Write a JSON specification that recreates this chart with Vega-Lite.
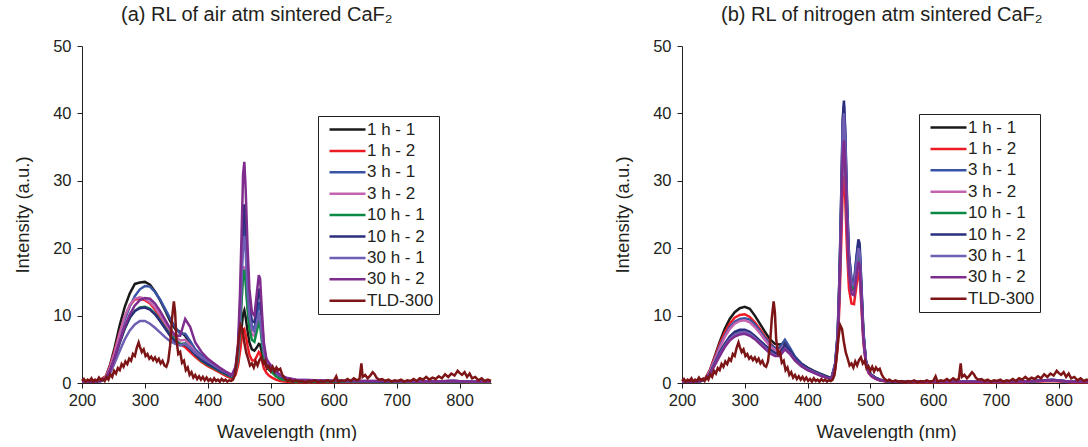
{
"$schema": "https://vega.github.io/schema/vega-lite/v6.json",
"padding": {"left": 13, "top": 5, "right": 0, "bottom": 0},
"spacing": 117,
"config": {
  "font": "Liberation Sans",
  "view": {"stroke": null},
  "axis": {"grid": false, "domainColor": "#231f20", "tickColor": "#231f20", "labelColor": "#231f20", "titleColor": "#231f20", "labelFontSize": 16.5, "titleFontSize": 18.5, "titleFontWeight": "normal", "labelFont": "Liberation Sans", "titleFont": "Liberation Sans", "domainWidth": 1, "tickWidth": 1, "labelFlush": false, "labelOverlap": false},
  "title": {"font": "Liberation Sans", "fontSize": 20, "fontWeight": "normal", "color": "#231f20", "anchor": "start", "frame": "group", "dx": 39, "offset": 13},
  "legend": {"orient": "none", "title": null, "symbolType": "M-3.6,0H3.6", "symbolSize": 100, "symbolStrokeWidth": 2.5, "labelFontSize": 17, "labelColor": "#231f20", "labelFont": "Liberation Sans", "strokeColor": "#231f20", "fillColor": "white", "padding": 5, "rowPadding": 3.4, "labelOffset": 11, "symbolOffset": 16}
},
"resolve": {"scale": {"color": "independent"}, "legend": {"color": "independent"}},
"datasets": {
  "a": [
    {"w":200,"1 h - 1":0.3,"1 h - 2":0.2,"3 h - 1":0.2,"3 h - 2":0.2,"10 h - 1":0.2,"10 h - 2":0.2,"30 h - 1":0.2,"30 h - 2":0.2},
    {"w":215,"1 h - 1":0.3,"1 h - 2":0.3,"3 h - 1":0.2,"3 h - 2":0.2,"10 h - 1":0.2,"10 h - 2":0.2,"30 h - 1":0.2,"30 h - 2":0.2},
    {"w":230,"1 h - 1":0.5,"1 h - 2":0.5,"3 h - 1":0.4,"3 h - 2":0.4,"10 h - 1":0.3,"10 h - 2":0.3,"30 h - 1":0.3,"30 h - 2":0.3},
    {"w":238,"1 h - 1":1.0,"1 h - 2":1.0,"3 h - 1":0.8,"3 h - 2":0.9,"10 h - 1":0.7,"10 h - 2":0.7,"30 h - 1":0.6,"30 h - 2":0.7},
    {"w":245,"1 h - 1":2.8,"1 h - 2":2.6,"3 h - 1":2.2,"3 h - 2":2.4,"10 h - 1":1.9,"10 h - 2":1.9,"30 h - 1":1.5,"30 h - 2":1.9},
    {"w":252,"1 h - 1":5.3,"1 h - 2":4.8,"3 h - 1":4.3,"3 h - 2":4.6,"10 h - 1":3.7,"10 h - 2":3.7,"30 h - 1":3.0,"30 h - 2":3.8},
    {"w":260,"1 h - 1":8.6,"1 h - 2":7.5,"3 h - 1":7.0,"3 h - 2":7.4,"10 h - 1":6.0,"10 h - 2":6.0,"30 h - 1":4.8,"30 h - 2":6.2},
    {"w":268,"1 h - 1":11.3,"1 h - 2":9.8,"3 h - 1":9.4,"3 h - 2":9.9,"10 h - 1":8.1,"10 h - 2":8.1,"30 h - 1":6.5,"30 h - 2":8.4},
    {"w":276,"1 h - 1":13.3,"1 h - 2":11.5,"3 h - 1":11.4,"3 h - 2":11.6,"10 h - 1":9.7,"10 h - 2":9.7,"30 h - 1":7.8,"30 h - 2":10.2},
    {"w":284,"1 h - 1":14.7,"1 h - 2":12.4,"3 h - 1":12.9,"3 h - 2":12.5,"10 h - 1":10.7,"10 h - 2":10.7,"30 h - 1":8.7,"30 h - 2":11.5},
    {"w":292,"1 h - 1":14.9,"1 h - 2":12.5,"3 h - 1":13.9,"3 h - 2":12.7,"10 h - 1":11.2,"10 h - 2":11.1,"30 h - 1":9.2,"30 h - 2":12.3},
    {"w":300,"1 h - 1":15.0,"1 h - 2":12.3,"3 h - 1":14.4,"3 h - 2":12.5,"10 h - 1":11.3,"10 h - 2":11.2,"30 h - 1":9.2,"30 h - 2":12.6},
    {"w":308,"1 h - 1":14.6,"1 h - 2":11.8,"3 h - 1":14.3,"3 h - 2":12.0,"10 h - 1":11.0,"10 h - 2":10.9,"30 h - 1":8.8,"30 h - 2":12.5},
    {"w":316,"1 h - 1":13.6,"1 h - 2":10.9,"3 h - 1":13.5,"3 h - 2":11.2,"10 h - 1":10.3,"10 h - 2":10.2,"30 h - 1":8.2,"30 h - 2":11.8},
    {"w":324,"1 h - 1":12.3,"1 h - 2":9.8,"3 h - 1":12.4,"3 h - 2":10.1,"10 h - 1":9.3,"10 h - 2":9.2,"30 h - 1":7.5,"30 h - 2":10.7},
    {"w":332,"1 h - 1":10.8,"1 h - 2":8.6,"3 h - 1":11.0,"3 h - 2":8.9,"10 h - 1":8.2,"10 h - 2":8.1,"30 h - 1":6.8,"30 h - 2":9.4},
    {"w":340,"1 h - 1":9.2,"1 h - 2":7.4,"3 h - 1":9.6,"3 h - 2":7.8,"10 h - 1":7.2,"10 h - 2":7.0,"30 h - 1":6.2,"30 h - 2":8.1},
    {"w":348,"1 h - 1":8.0,"1 h - 2":6.4,"3 h - 1":8.3,"3 h - 2":6.9,"10 h - 1":6.4,"10 h - 2":6.1,"30 h - 1":5.8,"30 h - 2":7.0},
    {"w":356,"1 h - 1":7.6,"1 h - 2":5.8,"3 h - 1":7.3,"3 h - 2":6.3,"10 h - 1":5.8,"10 h - 2":5.6,"30 h - 1":5.6,"30 h - 2":7.0},
    {"w":364,"1 h - 1":7.0,"1 h - 2":5.3,"3 h - 1":7.3,"3 h - 2":6.4,"10 h - 1":5.9,"10 h - 2":5.7,"30 h - 1":5.8,"30 h - 2":9.5},
    {"w":372,"1 h - 1":5.8,"1 h - 2":4.6,"3 h - 1":6.2,"3 h - 2":5.6,"10 h - 1":5.1,"10 h - 2":5.0,"30 h - 1":5.2,"30 h - 2":8.3},
    {"w":380,"1 h - 1":4.8,"1 h - 2":3.9,"3 h - 1":5.0,"3 h - 2":4.6,"10 h - 1":4.2,"10 h - 2":4.2,"30 h - 1":4.5,"30 h - 2":6.0},
    {"w":390,"1 h - 1":3.8,"1 h - 2":3.1,"3 h - 1":4.1,"3 h - 2":3.8,"10 h - 1":3.3,"10 h - 2":3.4,"30 h - 1":3.8,"30 h - 2":4.6},
    {"w":400,"1 h - 1":3.0,"1 h - 2":2.5,"3 h - 1":3.4,"3 h - 2":3.2,"10 h - 1":2.7,"10 h - 2":2.8,"30 h - 1":3.2,"30 h - 2":3.6},
    {"w":410,"1 h - 1":2.5,"1 h - 2":2.0,"3 h - 1":2.8,"3 h - 2":2.6,"10 h - 1":2.2,"10 h - 2":2.3,"30 h - 1":2.6,"30 h - 2":2.9},
    {"w":420,"1 h - 1":2.0,"1 h - 2":1.5,"3 h - 1":2.1,"3 h - 2":2.0,"10 h - 1":1.7,"10 h - 2":1.8,"30 h - 1":2.0,"30 h - 2":2.2},
    {"w":430,"1 h - 1":1.4,"1 h - 2":1.0,"3 h - 1":1.5,"3 h - 2":1.4,"10 h - 1":1.2,"10 h - 2":1.3,"30 h - 1":1.5,"30 h - 2":1.6},
    {"w":438,"1 h - 1":1.0,"1 h - 2":0.7,"3 h - 1":1.1,"3 h - 2":1.0,"10 h - 1":0.9,"10 h - 2":1.0,"30 h - 1":1.1,"30 h - 2":1.2},
    {"w":444,"1 h - 1":1.5,"1 h - 2":1.2,"3 h - 1":2.0,"3 h - 2":1.8,"10 h - 1":1.7,"10 h - 2":2.1,"30 h - 1":2.0,"30 h - 2":2.4},
    {"w":448,"1 h - 1":3.0,"1 h - 2":2.6,"3 h - 1":4.8,"3 h - 2":3.9,"10 h - 1":3.7,"10 h - 2":5.0,"30 h - 1":4.5,"30 h - 2":5.8},
    {"w":451,"1 h - 1":5.5,"1 h - 2":4.6,"3 h - 1":10.0,"3 h - 2":7.7,"10 h - 1":7.5,"10 h - 2":10.5,"30 h - 1":9.0,"30 h - 2":13.0},
    {"w":454,"1 h - 1":8.5,"1 h - 2":6.8,"3 h - 1":17.5,"3 h - 2":13.0,"10 h - 1":12.8,"10 h - 2":19.0,"30 h - 1":16.0,"30 h - 2":23.5},
    {"w":456,"1 h - 1":10.3,"1 h - 2":7.8,"3 h - 1":22.5,"3 h - 2":16.5,"10 h - 1":16.0,"10 h - 2":25.0,"30 h - 1":20.5,"30 h - 2":31.0},
    {"w":458,"1 h - 1":10.8,"1 h - 2":8.0,"3 h - 1":24.0,"3 h - 2":17.3,"10 h - 1":16.8,"10 h - 2":26.5,"30 h - 1":21.8,"30 h - 2":32.8},
    {"w":460,"1 h - 1":9.8,"1 h - 2":7.2,"3 h - 1":21.5,"3 h - 2":15.5,"10 h - 1":15.0,"10 h - 2":23.5,"30 h - 1":19.5,"30 h - 2":29.0},
    {"w":463,"1 h - 1":7.8,"1 h - 2":5.6,"3 h - 1":15.5,"3 h - 2":11.5,"10 h - 1":11.0,"10 h - 2":16.5,"30 h - 1":14.0,"30 h - 2":20.5},
    {"w":466,"1 h - 1":6.0,"1 h - 2":4.2,"3 h - 1":11.0,"3 h - 2":8.5,"10 h - 1":8.0,"10 h - 2":11.5,"30 h - 1":10.0,"30 h - 2":14.0},
    {"w":470,"1 h - 1":5.0,"1 h - 2":3.4,"3 h - 1":8.5,"3 h - 2":7.2,"10 h - 1":6.4,"10 h - 2":9.2,"30 h - 1":8.0,"30 h - 2":10.5},
    {"w":474,"1 h - 1":4.8,"1 h - 2":3.3,"3 h - 1":8.0,"3 h - 2":7.0,"10 h - 1":6.1,"10 h - 2":9.0,"30 h - 1":7.6,"30 h - 2":10.0},
    {"w":478,"1 h - 1":5.3,"1 h - 2":4.0,"3 h - 1":10.0,"3 h - 2":8.6,"10 h - 1":7.8,"10 h - 2":11.5,"30 h - 1":9.0,"30 h - 2":13.5},
    {"w":481,"1 h - 1":5.8,"1 h - 2":4.6,"3 h - 1":12.0,"3 h - 2":10.0,"10 h - 1":9.0,"10 h - 2":14.0,"30 h - 1":10.2,"30 h - 2":16.0},
    {"w":483,"1 h - 1":5.7,"1 h - 2":4.4,"3 h - 1":11.5,"3 h - 2":9.6,"10 h - 1":8.6,"10 h - 2":13.5,"30 h - 1":9.8,"30 h - 2":15.5},
    {"w":486,"1 h - 1":4.5,"1 h - 2":3.3,"3 h - 1":8.0,"3 h - 2":6.8,"10 h - 1":6.0,"10 h - 2":9.0,"30 h - 1":7.0,"30 h - 2":10.5},
    {"w":489,"1 h - 1":3.2,"1 h - 2":2.2,"3 h - 1":5.0,"3 h - 2":4.4,"10 h - 1":3.8,"10 h - 2":5.4,"30 h - 1":4.6,"30 h - 2":6.0},
    {"w":493,"1 h - 1":2.4,"1 h - 2":1.5,"3 h - 1":3.2,"3 h - 2":3.0,"10 h - 1":2.6,"10 h - 2":3.4,"30 h - 1":3.2,"30 h - 2":3.6},
    {"w":497,"1 h - 1":2.0,"1 h - 2":1.1,"3 h - 1":2.6,"3 h - 2":2.4,"10 h - 1":2.1,"10 h - 2":2.7,"30 h - 1":2.7,"30 h - 2":3.0},
    {"w":502,"1 h - 1":1.6,"1 h - 2":0.8,"3 h - 1":2.0,"3 h - 2":1.9,"10 h - 1":1.6,"10 h - 2":2.1,"30 h - 1":2.2,"30 h - 2":2.4},
    {"w":508,"1 h - 1":1.2,"1 h - 2":0.5,"3 h - 1":1.4,"3 h - 2":1.3,"10 h - 1":1.0,"10 h - 2":1.5,"30 h - 1":1.6,"30 h - 2":1.8},
    {"w":515,"1 h - 1":0.8,"1 h - 2":0.3,"3 h - 1":0.9,"3 h - 2":0.9,"10 h - 1":0.6,"10 h - 2":1.0,"30 h - 1":1.1,"30 h - 2":1.2},
    {"w":525,"1 h - 1":0.5,"1 h - 2":0.2,"3 h - 1":0.5,"3 h - 2":0.5,"10 h - 1":0.4,"10 h - 2":0.6,"30 h - 1":0.7,"30 h - 2":0.8},
    {"w":540,"1 h - 1":0.3,"1 h - 2":0.1,"3 h - 1":0.3,"3 h - 2":0.3,"10 h - 1":0.2,"10 h - 2":0.4,"30 h - 1":0.5,"30 h - 2":0.5},
    {"w":570,"1 h - 1":0.2,"1 h - 2":0.1,"3 h - 1":0.2,"3 h - 2":0.2,"10 h - 1":0.2,"10 h - 2":0.3,"30 h - 1":0.4,"30 h - 2":0.4},
    {"w":620,"1 h - 1":0.2,"1 h - 2":0.1,"3 h - 1":0.2,"3 h - 2":0.2,"10 h - 1":0.2,"10 h - 2":0.3,"30 h - 1":0.3,"30 h - 2":0.3},
    {"w":680,"1 h - 1":0.2,"1 h - 2":0.1,"3 h - 1":0.2,"3 h - 2":0.2,"10 h - 1":0.1,"10 h - 2":0.2,"30 h - 1":0.3,"30 h - 2":0.3},
    {"w":740,"1 h - 1":0.2,"1 h - 2":0.1,"3 h - 1":0.2,"3 h - 2":0.2,"10 h - 1":0.1,"10 h - 2":0.2,"30 h - 1":0.2,"30 h - 2":0.2},
    {"w":790,"1 h - 1":0.3,"1 h - 2":0.2,"3 h - 1":0.3,"3 h - 2":0.3,"10 h - 1":0.2,"10 h - 2":0.3,"30 h - 1":0.3,"30 h - 2":0.3},
    {"w":820,"1 h - 1":0.2,"1 h - 2":0.1,"3 h - 1":0.2,"3 h - 2":0.2,"10 h - 1":0.1,"10 h - 2":0.2,"30 h - 1":0.2,"30 h - 2":0.2},
    {"w":850,"1 h - 1":0.2,"1 h - 2":0.1,"3 h - 1":0.2,"3 h - 2":0.2,"10 h - 1":0.1,"10 h - 2":0.2,"30 h - 1":0.2,"30 h - 2":0.2}
  ],
  "b": [
    {"w":200,"1 h - 1":0.2,"1 h - 2":0.2,"3 h - 1":0.2,"3 h - 2":0.2,"10 h - 1":0.2,"10 h - 2":0.2,"30 h - 1":0.2,"30 h - 2":0.2},
    {"w":215,"1 h - 1":0.2,"1 h - 2":0.2,"3 h - 1":0.2,"3 h - 2":0.2,"10 h - 1":0.2,"10 h - 2":0.2,"30 h - 1":0.2,"30 h - 2":0.2},
    {"w":230,"1 h - 1":0.4,"1 h - 2":0.4,"3 h - 1":0.3,"3 h - 2":0.3,"10 h - 1":0.3,"10 h - 2":0.3,"30 h - 1":0.3,"30 h - 2":0.3},
    {"w":238,"1 h - 1":0.8,"1 h - 2":0.8,"3 h - 1":0.7,"3 h - 2":0.7,"10 h - 1":0.6,"10 h - 2":0.6,"30 h - 1":0.6,"30 h - 2":0.6},
    {"w":245,"1 h - 1":2.0,"1 h - 2":2.0,"3 h - 1":1.8,"3 h - 2":1.8,"10 h - 1":1.5,"10 h - 2":1.5,"30 h - 1":1.4,"30 h - 2":1.4},
    {"w":252,"1 h - 1":3.9,"1 h - 2":3.8,"3 h - 1":3.5,"3 h - 2":3.4,"10 h - 1":2.8,"10 h - 2":2.9,"30 h - 1":2.7,"30 h - 2":2.6},
    {"w":260,"1 h - 1":6.1,"1 h - 2":5.8,"3 h - 1":5.4,"3 h - 2":5.2,"10 h - 1":4.4,"10 h - 2":4.5,"30 h - 1":4.2,"30 h - 2":4.0},
    {"w":268,"1 h - 1":8.0,"1 h - 2":7.5,"3 h - 1":7.0,"3 h - 2":6.8,"10 h - 1":5.7,"10 h - 2":5.8,"30 h - 1":5.5,"30 h - 2":5.3},
    {"w":276,"1 h - 1":9.5,"1 h - 2":8.8,"3 h - 1":8.3,"3 h - 2":8.0,"10 h - 1":6.7,"10 h - 2":6.9,"30 h - 1":6.5,"30 h - 2":6.3},
    {"w":284,"1 h - 1":10.5,"1 h - 2":9.7,"3 h - 1":9.1,"3 h - 2":8.8,"10 h - 1":7.4,"10 h - 2":7.6,"30 h - 1":7.2,"30 h - 2":6.9},
    {"w":292,"1 h - 1":11.1,"1 h - 2":10.1,"3 h - 1":9.5,"3 h - 2":9.2,"10 h - 1":7.7,"10 h - 2":7.9,"30 h - 1":7.5,"30 h - 2":7.2},
    {"w":300,"1 h - 1":11.3,"1 h - 2":10.2,"3 h - 1":9.6,"3 h - 2":9.3,"10 h - 1":7.7,"10 h - 2":7.9,"30 h - 1":7.6,"30 h - 2":7.3},
    {"w":308,"1 h - 1":11.0,"1 h - 2":9.8,"3 h - 1":9.4,"3 h - 2":9.0,"10 h - 1":7.4,"10 h - 2":7.6,"30 h - 1":7.3,"30 h - 2":7.0},
    {"w":316,"1 h - 1":10.0,"1 h - 2":9.0,"3 h - 1":8.7,"3 h - 2":8.3,"10 h - 1":6.9,"10 h - 2":7.0,"30 h - 1":6.7,"30 h - 2":6.5},
    {"w":324,"1 h - 1":8.8,"1 h - 2":8.0,"3 h - 1":7.7,"3 h - 2":7.4,"10 h - 1":6.2,"10 h - 2":6.3,"30 h - 1":6.0,"30 h - 2":5.8},
    {"w":332,"1 h - 1":7.6,"1 h - 2":6.9,"3 h - 1":6.7,"3 h - 2":6.4,"10 h - 1":5.5,"10 h - 2":5.6,"30 h - 1":5.3,"30 h - 2":5.1},
    {"w":340,"1 h - 1":6.5,"1 h - 2":5.9,"3 h - 1":5.8,"3 h - 2":5.5,"10 h - 1":4.9,"10 h - 2":5.0,"30 h - 1":4.6,"30 h - 2":4.4},
    {"w":348,"1 h - 1":5.8,"1 h - 2":5.2,"3 h - 1":5.2,"3 h - 2":4.9,"10 h - 1":4.4,"10 h - 2":4.5,"30 h - 1":4.1,"30 h - 2":4.0},
    {"w":356,"1 h - 1":5.7,"1 h - 2":5.0,"3 h - 1":5.3,"3 h - 2":4.8,"10 h - 1":4.4,"10 h - 2":4.5,"30 h - 1":4.1,"30 h - 2":4.0},
    {"w":364,"1 h - 1":5.9,"1 h - 2":5.3,"3 h - 1":6.4,"3 h - 2":5.6,"10 h - 1":5.4,"10 h - 2":5.6,"30 h - 1":5.1,"30 h - 2":5.0},
    {"w":372,"1 h - 1":4.8,"1 h - 2":4.4,"3 h - 1":5.2,"3 h - 2":4.7,"10 h - 1":4.6,"10 h - 2":4.8,"30 h - 1":4.4,"30 h - 2":4.3},
    {"w":380,"1 h - 1":3.8,"1 h - 2":3.5,"3 h - 1":3.9,"3 h - 2":3.6,"10 h - 1":3.5,"10 h - 2":3.7,"30 h - 1":3.4,"30 h - 2":3.3},
    {"w":390,"1 h - 1":2.9,"1 h - 2":2.6,"3 h - 1":2.9,"3 h - 2":2.7,"10 h - 1":2.6,"10 h - 2":2.8,"30 h - 1":2.6,"30 h - 2":2.5},
    {"w":400,"1 h - 1":2.3,"1 h - 2":2.0,"3 h - 1":2.2,"3 h - 2":2.1,"10 h - 1":2.0,"10 h - 2":2.2,"30 h - 1":2.0,"30 h - 2":1.9},
    {"w":410,"1 h - 1":1.8,"1 h - 2":1.6,"3 h - 1":1.7,"3 h - 2":1.6,"10 h - 1":1.6,"10 h - 2":1.7,"30 h - 1":1.6,"30 h - 2":1.5},
    {"w":420,"1 h - 1":1.4,"1 h - 2":1.2,"3 h - 1":1.3,"3 h - 2":1.2,"10 h - 1":1.2,"10 h - 2":1.3,"30 h - 1":1.2,"30 h - 2":1.1},
    {"w":430,"1 h - 1":1.0,"1 h - 2":0.8,"3 h - 1":0.9,"3 h - 2":0.8,"10 h - 1":0.8,"10 h - 2":0.9,"30 h - 1":0.8,"30 h - 2":0.8},
    {"w":438,"1 h - 1":0.7,"1 h - 2":0.6,"3 h - 1":0.7,"3 h - 2":0.6,"10 h - 1":0.6,"10 h - 2":0.7,"30 h - 1":0.6,"30 h - 2":0.6},
    {"w":444,"1 h - 1":2.5,"1 h - 2":2.0,"3 h - 1":2.8,"3 h - 2":2.4,"10 h - 1":2.6,"10 h - 2":2.9,"30 h - 1":2.7,"30 h - 2":2.4},
    {"w":448,"1 h - 1":6.5,"1 h - 2":5.3,"3 h - 1":7.2,"3 h - 2":6.3,"10 h - 1":6.7,"10 h - 2":7.4,"30 h - 1":7.0,"30 h - 2":6.3},
    {"w":451,"1 h - 1":14.5,"1 h - 2":12.0,"3 h - 1":16.0,"3 h - 2":14.0,"10 h - 1":15.0,"10 h - 2":16.5,"30 h - 1":15.7,"30 h - 2":14.0},
    {"w":454,"1 h - 1":26.5,"1 h - 2":22.0,"3 h - 1":29.0,"3 h - 2":25.5,"10 h - 1":27.0,"10 h - 2":29.5,"30 h - 1":28.0,"30 h - 2":25.3},
    {"w":456,"1 h - 1":35.0,"1 h - 2":28.8,"3 h - 1":38.5,"3 h - 2":33.5,"10 h - 1":35.8,"10 h - 2":39.2,"30 h - 1":37.4,"30 h - 2":33.6},
    {"w":458,"1 h - 1":37.5,"1 h - 2":30.7,"3 h - 1":41.2,"3 h - 2":36.0,"10 h - 1":38.3,"10 h - 2":41.9,"30 h - 1":40.0,"30 h - 2":36.0},
    {"w":460,"1 h - 1":34.0,"1 h - 2":27.5,"3 h - 1":37.0,"3 h - 2":32.5,"10 h - 1":34.5,"10 h - 2":37.8,"30 h - 1":36.0,"30 h - 2":32.4},
    {"w":463,"1 h - 1":24.5,"1 h - 2":19.5,"3 h - 1":26.5,"3 h - 2":23.0,"10 h - 1":24.5,"10 h - 2":27.0,"30 h - 1":25.8,"30 h - 2":23.0},
    {"w":466,"1 h - 1":17.5,"1 h - 2":14.0,"3 h - 1":19.0,"3 h - 2":16.5,"10 h - 1":17.5,"10 h - 2":19.2,"30 h - 1":18.4,"30 h - 2":16.4},
    {"w":470,"1 h - 1":14.0,"1 h - 2":11.8,"3 h - 1":15.5,"3 h - 2":13.5,"10 h - 1":14.3,"10 h - 2":15.2,"30 h - 1":14.8,"30 h - 2":13.2},
    {"w":474,"1 h - 1":13.5,"1 h - 2":11.7,"3 h - 1":15.0,"3 h - 2":13.3,"10 h - 1":14.0,"10 h - 2":14.8,"30 h - 1":14.5,"30 h - 2":13.0},
    {"w":478,"1 h - 1":16.5,"1 h - 2":14.5,"3 h - 1":18.5,"3 h - 2":16.0,"10 h - 1":17.3,"10 h - 2":18.8,"30 h - 1":17.8,"30 h - 2":16.0},
    {"w":481,"1 h - 1":19.0,"1 h - 2":16.5,"3 h - 1":20.8,"3 h - 2":18.0,"10 h - 1":19.5,"10 h - 2":21.3,"30 h - 1":20.0,"30 h - 2":18.0},
    {"w":483,"1 h - 1":18.5,"1 h - 2":16.0,"3 h - 1":20.2,"3 h - 2":17.5,"10 h - 1":19.0,"10 h - 2":20.7,"30 h - 1":19.5,"30 h - 2":17.5},
    {"w":486,"1 h - 1":13.0,"1 h - 2":11.0,"3 h - 1":14.0,"3 h - 2":12.0,"10 h - 1":13.0,"10 h - 2":14.2,"30 h - 1":13.4,"30 h - 2":12.0},
    {"w":489,"1 h - 1":7.0,"1 h - 2":6.0,"3 h - 1":7.5,"3 h - 2":6.5,"10 h - 1":7.0,"10 h - 2":7.6,"30 h - 1":7.2,"30 h - 2":6.5},
    {"w":493,"1 h - 1":3.2,"1 h - 2":2.8,"3 h - 1":3.3,"3 h - 2":2.9,"10 h - 1":3.1,"10 h - 2":3.4,"30 h - 1":3.2,"30 h - 2":2.9},
    {"w":497,"1 h - 1":1.8,"1 h - 2":1.5,"3 h - 1":1.8,"3 h - 2":1.6,"10 h - 1":1.7,"10 h - 2":1.8,"30 h - 1":1.7,"30 h - 2":1.6},
    {"w":502,"1 h - 1":1.2,"1 h - 2":1.0,"3 h - 1":1.2,"3 h - 2":1.1,"10 h - 1":1.1,"10 h - 2":1.2,"30 h - 1":1.1,"30 h - 2":1.0},
    {"w":508,"1 h - 1":0.8,"1 h - 2":0.6,"3 h - 1":0.8,"3 h - 2":0.7,"10 h - 1":0.7,"10 h - 2":0.8,"30 h - 1":0.7,"30 h - 2":0.7},
    {"w":515,"1 h - 1":0.5,"1 h - 2":0.4,"3 h - 1":0.5,"3 h - 2":0.4,"10 h - 1":0.4,"10 h - 2":0.5,"30 h - 1":0.4,"30 h - 2":0.4},
    {"w":525,"1 h - 1":0.3,"1 h - 2":0.2,"3 h - 1":0.3,"3 h - 2":0.3,"10 h - 1":0.3,"10 h - 2":0.3,"30 h - 1":0.3,"30 h - 2":0.3},
    {"w":540,"1 h - 1":0.2,"1 h - 2":0.2,"3 h - 1":0.2,"3 h - 2":0.2,"10 h - 1":0.2,"10 h - 2":0.2,"30 h - 1":0.2,"30 h - 2":0.2},
    {"w":570,"1 h - 1":0.2,"1 h - 2":0.1,"3 h - 1":0.2,"3 h - 2":0.2,"10 h - 1":0.2,"10 h - 2":0.2,"30 h - 1":0.2,"30 h - 2":0.2},
    {"w":620,"1 h - 1":0.2,"1 h - 2":0.1,"3 h - 1":0.2,"3 h - 2":0.2,"10 h - 1":0.2,"10 h - 2":0.2,"30 h - 1":0.2,"30 h - 2":0.2},
    {"w":680,"1 h - 1":0.2,"1 h - 2":0.1,"3 h - 1":0.2,"3 h - 2":0.2,"10 h - 1":0.2,"10 h - 2":0.2,"30 h - 1":0.2,"30 h - 2":0.2},
    {"w":740,"1 h - 1":0.2,"1 h - 2":0.1,"3 h - 1":0.2,"3 h - 2":0.2,"10 h - 1":0.2,"10 h - 2":0.2,"30 h - 1":0.2,"30 h - 2":0.2},
    {"w":790,"1 h - 1":0.4,"1 h - 2":0.3,"3 h - 1":0.5,"3 h - 2":0.4,"10 h - 1":0.4,"10 h - 2":0.5,"30 h - 1":0.4,"30 h - 2":0.4},
    {"w":820,"1 h - 1":0.2,"1 h - 2":0.1,"3 h - 1":0.2,"3 h - 2":0.2,"10 h - 1":0.2,"10 h - 2":0.2,"30 h - 1":0.2,"30 h - 2":0.2},
    {"w":850,"1 h - 1":0.2,"1 h - 2":0.1,"3 h - 1":0.2,"3 h - 2":0.2,"10 h - 1":0.2,"10 h - 2":0.2,"30 h - 1":0.2,"30 h - 2":0.2}
  ],
  "t": [
    {"w":200,"TLD-300":0.3},{"w":203,"TLD-300":0.6},{"w":206,"TLD-300":0.2},{"w":209,"TLD-300":0.5},{"w":212,"TLD-300":0.3},{"w":215,"TLD-300":0.7},{"w":218,"TLD-300":0.2},{"w":221,"TLD-300":0.5},{"w":224,"TLD-300":0.3},{"w":227,"TLD-300":0.8},
    {"w":230,"TLD-300":0.4},{"w":233,"TLD-300":0.6},{"w":236,"TLD-300":0.3},{"w":239,"TLD-300":0.9},{"w":242,"TLD-300":0.5},{"w":245,"TLD-300":1.3},{"w":248,"TLD-300":0.9},{"w":251,"TLD-300":1.8},{"w":254,"TLD-300":1.4},{"w":257,"TLD-300":2.2},
    {"w":260,"TLD-300":1.9},{"w":263,"TLD-300":2.8},{"w":266,"TLD-300":2.4},{"w":269,"TLD-300":3.2},{"w":272,"TLD-300":2.8},{"w":275,"TLD-300":3.6},{"w":278,"TLD-300":3.3},{"w":281,"TLD-300":4.3},{"w":284,"TLD-300":4.0},{"w":287,"TLD-300":5.2},
    {"w":290,"TLD-300":6.0},{"w":292,"TLD-300":5.4},{"w":295,"TLD-300":4.6},{"w":298,"TLD-300":5.0},{"w":301,"TLD-300":4.0},{"w":304,"TLD-300":4.3},{"w":307,"TLD-300":3.6},{"w":310,"TLD-300":3.9},{"w":313,"TLD-300":3.4},{"w":316,"TLD-300":3.8},
    {"w":319,"TLD-300":3.2},{"w":322,"TLD-300":3.6},{"w":325,"TLD-300":2.9},{"w":328,"TLD-300":3.3},{"w":331,"TLD-300":2.6},{"w":334,"TLD-300":2.4},{"w":337,"TLD-300":3.2},{"w":340,"TLD-300":5.5},{"w":343,"TLD-300":9.5},{"w":346,"TLD-300":12.1},
    {"w":348,"TLD-300":10.5},{"w":350,"TLD-300":6.5},{"w":353,"TLD-300":4.3},{"w":356,"TLD-300":4.6},{"w":359,"TLD-300":3.0},{"w":362,"TLD-300":3.3},{"w":365,"TLD-300":1.9},{"w":368,"TLD-300":2.3},{"w":371,"TLD-300":1.2},{"w":374,"TLD-300":1.6},
    {"w":377,"TLD-300":0.8},{"w":380,"TLD-300":1.2},{"w":383,"TLD-300":0.6},{"w":386,"TLD-300":1.0},{"w":389,"TLD-300":0.5},{"w":392,"TLD-300":0.9},{"w":395,"TLD-300":0.4},{"w":398,"TLD-300":0.8},{"w":401,"TLD-300":0.3},{"w":404,"TLD-300":0.6},
    {"w":407,"TLD-300":0.2},{"w":410,"TLD-300":0.7},{"w":413,"TLD-300":0.3},{"w":416,"TLD-300":0.5},{"w":419,"TLD-300":0.2},{"w":422,"TLD-300":0.6},{"w":425,"TLD-300":0.3},{"w":428,"TLD-300":0.5},{"w":431,"TLD-300":0.2},{"w":434,"TLD-300":0.4},
    {"w":437,"TLD-300":0.3},{"w":440,"TLD-300":0.5},{"w":443,"TLD-300":1.2},{"w":446,"TLD-300":3.5},{"w":449,"TLD-300":6.5},{"w":452,"TLD-300":8.6},{"w":455,"TLD-300":8.0},{"w":458,"TLD-300":6.0},{"w":461,"TLD-300":4.5},{"w":464,"TLD-300":3.6},
    {"w":467,"TLD-300":2.6},{"w":470,"TLD-300":2.9},{"w":473,"TLD-300":2.3},{"w":476,"TLD-300":3.2},{"w":479,"TLD-300":2.6},{"w":482,"TLD-300":3.4},{"w":485,"TLD-300":3.8},{"w":488,"TLD-300":2.9},{"w":491,"TLD-300":3.3},{"w":494,"TLD-300":2.2},
    {"w":497,"TLD-300":2.5},{"w":500,"TLD-300":1.8},{"w":503,"TLD-300":2.4},{"w":506,"TLD-300":1.7},{"w":509,"TLD-300":2.3},{"w":512,"TLD-300":1.9},{"w":515,"TLD-300":2.1},{"w":518,"TLD-300":1.3},{"w":521,"TLD-300":0.8},{"w":524,"TLD-300":0.5},
    {"w":527,"TLD-300":0.3},{"w":530,"TLD-300":0.5},{"w":535,"TLD-300":0.2},{"w":540,"TLD-300":0.4},{"w":545,"TLD-300":0.2},{"w":550,"TLD-300":0.3},{"w":555,"TLD-300":0.1},{"w":560,"TLD-300":0.3},{"w":565,"TLD-300":0.2},{"w":570,"TLD-300":0.4},
    {"w":575,"TLD-300":0.1},{"w":580,"TLD-300":0.3},{"w":585,"TLD-300":0.2},{"w":590,"TLD-300":0.4},{"w":595,"TLD-300":0.2},{"w":600,"TLD-300":0.3},{"w":604,"TLD-300":1.0},{"w":607,"TLD-300":0.2},{"w":612,"TLD-300":0.4},{"w":617,"TLD-300":0.3},
    {"w":622,"TLD-300":0.6},{"w":627,"TLD-300":0.3},{"w":632,"TLD-300":0.7},{"w":637,"TLD-300":0.4},{"w":641,"TLD-300":0.6},{"w":644,"TLD-300":2.9},{"w":646,"TLD-300":0.9},{"w":650,"TLD-300":1.2},{"w":654,"TLD-300":0.7},{"w":658,"TLD-300":1.1},
    {"w":662,"TLD-300":1.6},{"w":665,"TLD-300":1.3},{"w":668,"TLD-300":0.8},{"w":672,"TLD-300":0.5},{"w":677,"TLD-300":0.6},{"w":682,"TLD-300":0.3},{"w":687,"TLD-300":0.5},{"w":692,"TLD-300":0.2},{"w":697,"TLD-300":0.4},{"w":702,"TLD-300":0.3},
    {"w":707,"TLD-300":0.5},{"w":712,"TLD-300":0.2},{"w":717,"TLD-300":0.4},{"w":722,"TLD-300":0.3},{"w":727,"TLD-300":0.6},{"w":732,"TLD-300":0.3},{"w":737,"TLD-300":0.7},{"w":742,"TLD-300":0.5},{"w":747,"TLD-300":0.9},{"w":752,"TLD-300":0.5},
    {"w":757,"TLD-300":0.8},{"w":762,"TLD-300":0.6},{"w":767,"TLD-300":1.0},{"w":772,"TLD-300":0.7},{"w":777,"TLD-300":1.3},{"w":782,"TLD-300":0.9},{"w":787,"TLD-300":1.4},{"w":792,"TLD-300":1.1},{"w":797,"TLD-300":1.8},{"w":800,"TLD-300":1.5},
    {"w":804,"TLD-300":1.2},{"w":808,"TLD-300":1.6},{"w":812,"TLD-300":0.9},{"w":816,"TLD-300":1.4},{"w":820,"TLD-300":0.7},{"w":825,"TLD-300":0.9},{"w":830,"TLD-300":0.4},{"w":835,"TLD-300":0.7},{"w":840,"TLD-300":0.3},{"w":845,"TLD-300":0.5},{"w":850,"TLD-300":0.3}
  ]
},
"hconcat": [
  {
    "width": 409, "height": 337,
    "title": {"text": "(a) RL of air atm sintered CaF₂"},
    "layer": [
      {
        "data": {"name": "a"},
        "transform": [{"fold": ["1 h - 1","1 h - 2","3 h - 1","3 h - 2","10 h - 1","10 h - 2","30 h - 1","30 h - 2"], "as": ["s","i"]}],
        "mark": {"type": "line", "strokeWidth": 2.5},
        "encoding": {
          "x": {"field": "w", "type": "quantitative", "scale": {"domain": [200, 850], "nice": false}, "axis": {"title": "Wavelength (nm)", "values": [200,250,300,350,400,450,500,550,600,650,700,750,800,850], "labelExpr": "datum.value % 100 === 0 ? datum.label : ''", "tickSize": {"condition": {"test": "datum.value % 100 === 0", "value": 5}, "value": 3}, "labelPadding": 4, "titlePadding": 14}},
          "y": {"field": "i", "type": "quantitative", "scale": {"domain": [0, 50], "nice": false}, "axis": {"title": "Intensity (a.u.)", "values": [0,5,10,15,20,25,30,35,40,45,50], "labelExpr": "datum.value % 10 === 0 ? datum.label : ''", "tickSize": {"condition": {"test": "datum.value % 10 === 0", "value": 5}, "value": 3}, "labelPadding": 6, "titlePadding": 20}},
          "color": {"field": "s", "type": "nominal",
            "scale": {"domain": ["1 h - 1","1 h - 2","3 h - 1","3 h - 2","10 h - 1","10 h - 2","30 h - 1","30 h - 2","TLD-300"], "range": ["#1a1a1a","#ed1c24","#3953a4","#c464b0","#0b8a45","#2b2e7c","#6e5fb4","#7e2c8e","#7d1416"]},
            "legend": {"legendX": 236, "legendY": 70}}
        }
      },
      {
        "data": {"name": "t"},
        "transform": [{"fold": ["TLD-300"], "as": ["s","i"]}],
        "mark": {"type": "line", "strokeWidth": 2.5},
        "encoding": {
          "x": {"field": "w", "type": "quantitative"},
          "y": {"field": "i", "type": "quantitative"},
          "color": {"field": "s", "type": "nominal"}
        }
      }
    ]
  },
  {
    "width": 408, "height": 337,
    "title": {"text": "(b) RL of nitrogen atm sintered CaF₂"},
    "layer": [
      {
        "data": {"name": "b"},
        "transform": [{"fold": ["1 h - 1","1 h - 2","3 h - 1","3 h - 2","10 h - 1","10 h - 2","30 h - 1","30 h - 2"], "as": ["s","i"]}],
        "mark": {"type": "line", "strokeWidth": 2.5},
        "encoding": {
          "x": {"field": "w", "type": "quantitative", "scale": {"domain": [200, 850], "nice": false}, "axis": {"title": "Wavelength (nm)", "values": [200,250,300,350,400,450,500,550,600,650,700,750,800,850], "labelExpr": "datum.value % 100 === 0 ? datum.label : ''", "tickSize": {"condition": {"test": "datum.value % 100 === 0", "value": 5}, "value": 3}, "labelPadding": 4, "titlePadding": 14}},
          "y": {"field": "i", "type": "quantitative", "scale": {"domain": [0, 50], "nice": false}, "axis": {"title": "Intensity (a.u.)", "values": [0,5,10,15,20,25,30,35,40,45,50], "labelExpr": "datum.value % 10 === 0 ? datum.label : ''", "tickSize": {"condition": {"test": "datum.value % 10 === 0", "value": 5}, "value": 3}, "labelPadding": 6, "titlePadding": 20}},
          "color": {"field": "s", "type": "nominal",
            "scale": {"domain": ["1 h - 1","1 h - 2","3 h - 1","3 h - 2","10 h - 1","10 h - 2","30 h - 1","30 h - 2","TLD-300"], "range": ["#1a1a1a","#ed1c24","#3953a4","#c464b0","#0b8a45","#2b2e7c","#6e5fb4","#7e2c8e","#7d1416"]},
            "legend": {"legendX": 237, "legendY": 68}}
        }
      },
      {
        "data": {"name": "t"},
        "transform": [{"fold": ["TLD-300"], "as": ["s","i"]}],
        "mark": {"type": "line", "strokeWidth": 2.5},
        "encoding": {
          "x": {"field": "w", "type": "quantitative"},
          "y": {"field": "i", "type": "quantitative"},
          "color": {"field": "s", "type": "nominal"}
        }
      }
    ]
  }
]
}
